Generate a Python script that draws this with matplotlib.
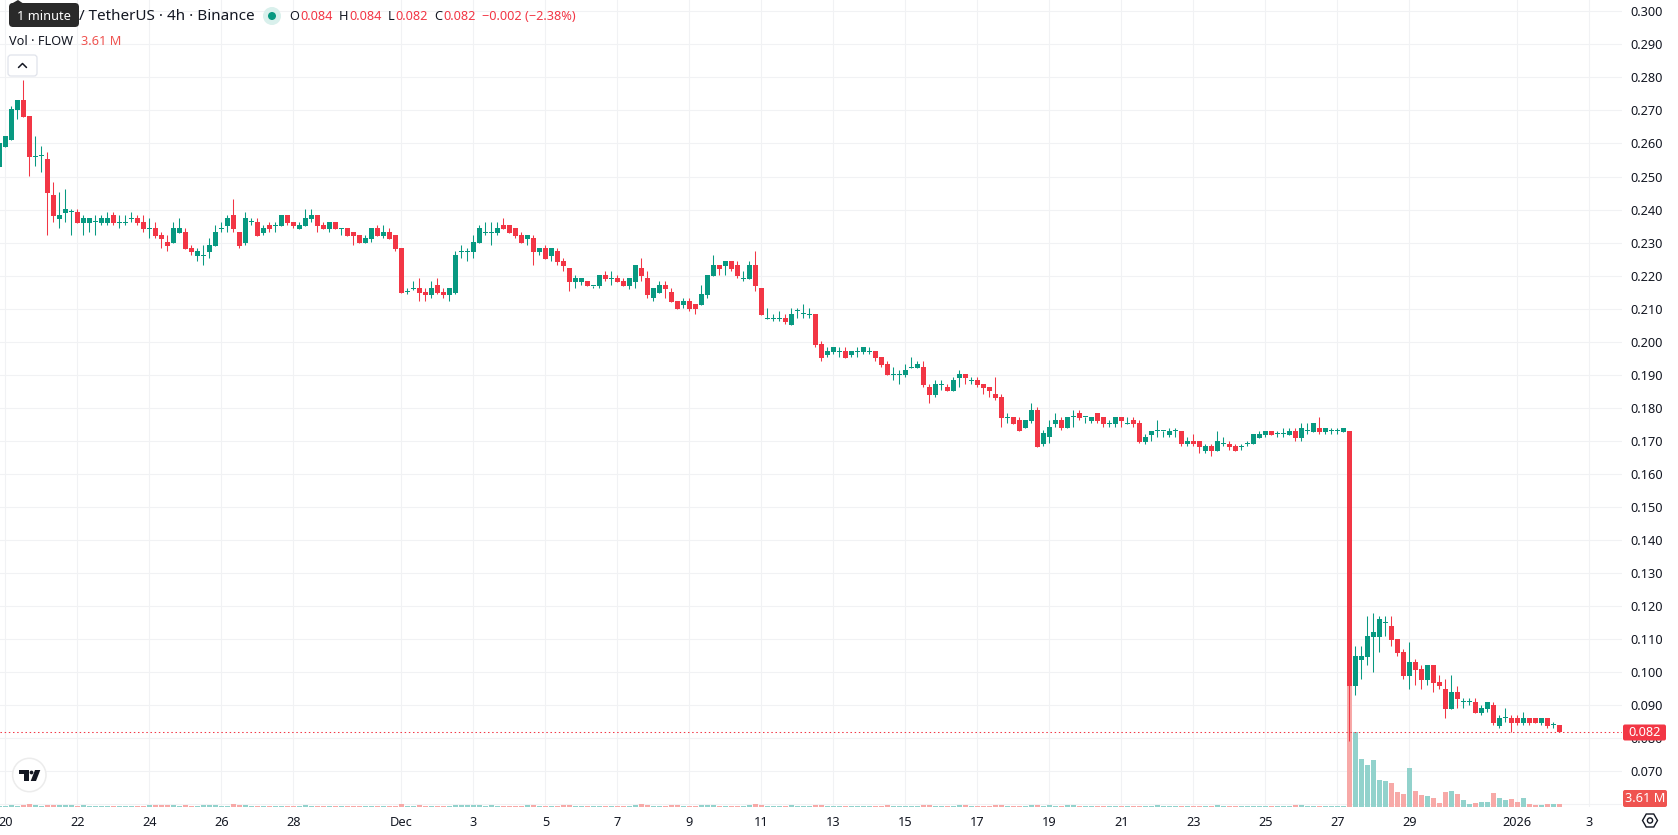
import matplotlib
matplotlib.use("Agg")
import matplotlib.pyplot as plt
import numpy as np
from matplotlib.patches import Circle, FancyBboxPatch, Polygon, RegularPolygon

# FLOW / USDT 4h candles; index 0 is the first bar of Nov 20
first_index = -1
opens = [
    .2529, .2590, .2611, .2701, .2731, .2683, .2560, .2561, .2553, .2443,
    .2371, .2390, .2392, .2392, .2360, .2360, .2361, .2360, .2360, .2383,
    .2360, .2360, .2372, .2374, .2362, .2342, .2343, .2322, .2301, .2299,
    .2329, .2331, .2283, .2259, .2261, .2271, .2289, .2342, .2349, .2383,
    .2331, .2298, .2361, .2362, .2328, .2353, .2351, .2349, .2383, .2362,
    .2340, .2349, .2371, .2383, .2353, .2340, .2362, .2342, .2343, .2331,
    .2322, .2298, .2310, .2343, .2319, .2331, .2322, .2283, .2152, .2160,
    .2162, .2152, .2140, .2171, .2152, .2140, .2149, .2272, .2273, .2271,
    .2298, .2329, .2330, .2328, .2353, .2353, .2343, .2322, .2310, .2313,
    .2271, .2283, .2259, .2274, .2243, .2222, .2180, .2180, .2183, .2168,
    .2168, .2201, .2190, .2192, .2183, .2168, .2180, .2222, .2192, .2131,
    .2149, .2171, .2152, .2122, .2110, .2122, .2113, .2110, .2140, .2198,
    .2231, .2228, .2243, .2231, .2189, .2189, .2231, .2162, .2070, .2069,
    .2070, .2071, .2051, .2092, .2083, .2082, .2084, .1993, .1960, .1969,
    .1970, .1972, .1960, .1970, .1969, .1970, .1972, .1954, .1932, .1900,
    .1900, .1899, .1921, .1920, .1923, .1863, .1838, .1870, .1863, .1851,
    .1890, .1902, .1882, .1884, .1872, .1863, .1841, .1832, .1769, .1772,
    .1763, .1738, .1760, .1793, .1690, .1711, .1751, .1763, .1738, .1771,
    .1784, .1771, .1760, .1784, .1772, .1752, .1751, .1772, .1752, .1763,
    .1753, .1698, .1719, .1730, .1730, .1719, .1730, .1731, .1689, .1701,
    .1701, .1668, .1683, .1668, .1689, .1692, .1683, .1681, .1690, .1689,
    .1710, .1719, .1731, .1720, .1720, .1719, .1731, .1710, .1730, .1728,
    .1740, .1728, .1730, .1730, .1728, .1731, .0959, .1037, .1046, .1107,
    .1107, .1148, .1140, .1101, .1062, .0989, .1031, .1010, .0977, .1022,
    .0971, .0949, .0889, .0940, .0909, .0909, .0910, .0877, .0889, .0901,
    .0837, .0860, .0862, .0862, .0846, .0862, .0862, .0846, .0862, .0840,
    .0840,
]
closes = [
    .2603, .2622, .2704, .2731, .2681, .2560, .2562, .2562, .2451, .2381,
    .2383, .2401, .2392, .2360, .2374, .2374, .2362, .2374, .2374, .2360,
    .2361, .2361, .2373, .2360, .2341, .2343, .2319, .2310, .2289, .2343,
    .2343, .2280, .2271, .2274, .2262, .2292, .2331, .2343, .2374, .2340,
    .2289, .2374, .2362, .2319, .2343, .2340, .2352, .2383, .2359, .2349,
    .2353, .2374, .2383, .2349, .2340, .2362, .2340, .2343, .2319, .2319,
    .2298, .2313, .2343, .2319, .2331, .2310, .2280, .2149, .2153, .2161,
    .2149, .2140, .2162, .2149, .2140, .2162, .2262, .2273, .2274, .2301,
    .2343, .2330, .2331, .2343, .2340, .2328, .2319, .2298, .2322, .2271,
    .2283, .2249, .2283, .2240, .2228, .2180, .2192, .2192, .2168, .2169,
    .2201, .2189, .2191, .2180, .2168, .2192, .2231, .2198, .2140, .2162,
    .2171, .2159, .2119, .2098, .2122, .2098, .2098, .2143, .2201, .2231,
    .2219, .2243, .2219, .2198, .2190, .2231, .2168, .2081, .2071, .2070,
    .2071, .2059, .2084, .2093, .2084, .2083, .1990, .1951, .1972, .1984,
    .1971, .1951, .1972, .1971, .1984, .1971, .1951, .1929, .1899, .1901,
    .1901, .1914, .1922, .1932, .1869, .1838, .1872, .1871, .1851, .1884,
    .1902, .1890, .1883, .1869, .1860, .1851, .1829, .1769, .1770, .1751,
    .1729, .1763, .1793, .1681, .1723, .1741, .1763, .1738, .1772, .1772,
    .1769, .1772, .1772, .1760, .1751, .1753, .1772, .1760, .1753, .1751,
    .1698, .1713, .1731, .1731, .1731, .1731, .1731, .1689, .1701, .1689,
    .1680, .1683, .1668, .1701, .1690, .1680, .1668, .1682, .1691, .1722,
    .1722, .1731, .1719, .1721, .1721, .1731, .1710, .1740, .1731, .1753,
    .1728, .1740, .1731, .1731, .1740, .0959, .1049, .1049, .1110, .1122,
    .1162, .1149, .1098, .1059, .0989, .1031, .1007, .0977, .1022, .0968,
    .0959, .0889, .0940, .0919, .0910, .0910, .0877, .0892, .0910, .0846,
    .0862, .0861, .0846, .0846, .0862, .0846, .0846, .0862, .0837, .0841,
    .0818,
]
highs = [
    .2603, .2622, .2712, .2731, .2792, .2683, .2622, .2592, .2573, .2483,
    .2453, .2462, .2401, .2401, .2383, .2374, .2383, .2383, .2392, .2392,
    .2383, .2383, .2392, .2383, .2383, .2374, .2362, .2331, .2322, .2362,
    .2374, .2343, .2292, .2283, .2292, .2313, .2353, .2362, .2383, .2431,
    .2331, .2392, .2374, .2374, .2353, .2362, .2362, .2383, .2383, .2362,
    .2362, .2401, .2401, .2383, .2362, .2362, .2362, .2343, .2343, .2331,
    .2322, .2322, .2343, .2353, .2353, .2343, .2322, .2283, .2162, .2183,
    .2192, .2162, .2183, .2192, .2162, .2162, .2274, .2292, .2283, .2322,
    .2353, .2362, .2362, .2362, .2374, .2353, .2343, .2331, .2322, .2322,
    .2283, .2292, .2283, .2283, .2253, .2222, .2201, .2192, .2183, .2169,
    .2201, .2213, .2213, .2201, .2192, .2192, .2231, .2253, .2213, .2162,
    .2183, .2183, .2162, .2122, .2131, .2131, .2113, .2171, .2201, .2262,
    .2231, .2243, .2243, .2243, .2213, .2243, .2274, .2162, .2102, .2083,
    .2092, .2083, .2102, .2102, .2114, .2102, .2084, .2002, .1984, .1984,
    .1984, .1984, .1972, .1984, .1984, .1984, .1972, .1954, .1941, .1923,
    .1914, .1932, .1954, .1941, .1941, .1872, .1884, .1884, .1872, .1893,
    .1914, .1902, .1893, .1893, .1872, .1863, .1893, .1841, .1784, .1772,
    .1772, .1763, .1814, .1802, .1732, .1763, .1784, .1772, .1772, .1793,
    .1793, .1772, .1772, .1784, .1772, .1763, .1772, .1772, .1772, .1772,
    .1763, .1722, .1731, .1762, .1731, .1740, .1740, .1731, .1713, .1722,
    .1701, .1692, .1692, .1731, .1713, .1701, .1692, .1692, .1701, .1722,
    .1731, .1731, .1731, .1731, .1740, .1740, .1740, .1753, .1753, .1753,
    .1771, .1740, .1740, .1740, .1740, .1731, .1080, .1080, .1171, .1180,
    .1171, .1171, .1171, .1101, .1071, .1092, .1040, .1022, .1022, .1022,
    .0992, .0980, .0992, .0959, .0922, .0922, .0922, .0901, .0910, .0910,
    .0871, .0892, .0871, .0871, .0880, .0862, .0862, .0862, .0862, .0849,
    .0840,
]
lows = [
    .2529, .2590, .2611, .2674, .2681, .2502, .2532, .2514, .2323, .2363,
    .2344, .2363, .2323, .2360, .2323, .2332, .2323, .2353, .2353, .2353,
    .2343, .2353, .2362, .2353, .2332, .2313, .2313, .2283, .2274, .2299,
    .2329, .2280, .2262, .2243, .2231, .2253, .2289, .2331, .2331, .2331,
    .2283, .2292, .2353, .2319, .2322, .2331, .2331, .2349, .2353, .2343,
    .2340, .2349, .2362, .2331, .2340, .2331, .2340, .2322, .2319, .2292,
    .2298, .2298, .2301, .2319, .2313, .2310, .2274, .2149, .2143, .2156,
    .2122, .2122, .2131, .2143, .2131, .2122, .2143, .2253, .2243, .2253,
    .2298, .2322, .2292, .2322, .2340, .2328, .2313, .2298, .2292, .2231,
    .2262, .2249, .2243, .2231, .2213, .2153, .2162, .2171, .2168, .2162,
    .2162, .2183, .2171, .2180, .2168, .2159, .2162, .2183, .2131, .2122,
    .2149, .2131, .2119, .2098, .2101, .2092, .2083, .2110, .2131, .2198,
    .2201, .2201, .2213, .2192, .2183, .2189, .2153, .2081, .2070, .2062,
    .2062, .2053, .2051, .2072, .2072, .2072, .1984, .1941, .1954, .1963,
    .1954, .1951, .1954, .1954, .1963, .1963, .1941, .1923, .1899, .1884,
    .1872, .1893, .1921, .1920, .1863, .1814, .1832, .1854, .1851, .1851,
    .1863, .1872, .1872, .1863, .1841, .1832, .1823, .1741, .1754, .1751,
    .1729, .1738, .1754, .1681, .1684, .1693, .1741, .1732, .1738, .1741,
    .1763, .1754, .1754, .1754, .1741, .1741, .1741, .1741, .1752, .1741,
    .1693, .1692, .1701, .1713, .1713, .1713, .1713, .1683, .1683, .1683,
    .1662, .1662, .1653, .1668, .1683, .1671, .1668, .1671, .1683, .1689,
    .1710, .1713, .1719, .1713, .1713, .1719, .1701, .1701, .1722, .1728,
    .1722, .1722, .1722, .1722, .1728, .0792, .0931, .0980, .1022, .1001,
    .1062, .1110, .1080, .1049, .0980, .0949, .0962, .0949, .0962, .0940,
    .0949, .0862, .0889, .0892, .0892, .0901, .0877, .0871, .0880, .0840,
    .0831, .0849, .0819, .0840, .0840, .0840, .0846, .0840, .0831, .0831,
    .0818,
]
# traded volume per bar, in millions of FLOW
volumes = [
    1.3, 1.3, 2.7, 1.3, 2.7, 4.0, 2.7, 1.3, 2.7, 2.7,
    2.7, 2.7, 2.7, 1.3, 2.7, 1.3, 1.3, 1.3, 1.3, 1.3,
    1.3, 1.3, 1.3, 1.3, 1.3, 2.7, 2.7, 2.7, 2.7, 2.7,
    1.3, 2.7, 1.3, 1.3, 2.7, 2.7, 2.7, 1.3, 1.3, 4.0,
    2.7, 2.7, 1.3, 1.3, 1.3, 1.3, 1.3, 1.3, 1.3, 1.3,
    1.3, 2.7, 1.3, 1.3, 1.3, 1.3, 1.3, 1.3, 1.3, 1.3,
    1.3, 1.3, 1.3, 1.3, 1.3, 1.3, 1.3, 4.0, 1.3, 1.3,
    2.7, 1.3, 1.3, 1.3, 1.3, 1.3, 2.7, 2.7, 2.7, 2.7,
    2.7, 1.3, 2.7, 1.3, 1.3, 1.3, 1.3, 1.3, 2.7, 2.7,
    1.3, 1.3, 1.3, 1.3, 2.7, 2.7, 1.3, 1.3, 1.3, 1.3,
    1.3, 1.3, 1.3, 1.3, 1.3, 1.3, 2.7, 4.0, 2.7, 1.3,
    1.3, 1.3, 2.7, 2.7, 1.3, 1.3, 1.3, 2.7, 2.7, 2.7,
    1.3, 1.3, 1.3, 1.3, 1.3, 2.7, 4.0, 2.7, 1.3, 1.3,
    1.3, 1.3, 2.7, 1.3, 1.3, 1.3, 2.7, 2.7, 1.3, 1.3,
    1.3, 1.3, 1.3, 1.3, 1.3, 1.3, 1.3, 1.3, 2.7, 1.3,
    1.3, 1.3, 1.3, 1.3, 2.7, 2.7, 1.3, 1.3, 1.3, 1.3,
    2.7, 2.7, 1.3, 1.3, 1.3, 1.3, 2.7, 2.7, 1.3, 1.3,
    1.3, 1.3, 2.7, 2.7, 1.3, 2.7, 1.3, 1.3, 2.7, 2.7,
    1.3, 1.3, 1.3, 1.3, 1.3, 1.3, 1.3, 1.3, 1.3, 1.3,
    1.3, 1.3, 1.3, 2.7, 1.3, 1.3, 1.3, 1.3, 1.3, 1.3,
    1.3, 1.3, 1.3, 2.7, 1.3, 1.3, 1.3, 1.3, 1.3, 1.3,
    1.3, 1.3, 1.3, 1.3, 1.3, 1.3, 2.7, 2.7, 1.3, 1.3,
    1.3, 1.3, 1.3, 1.3, 1.3, 250, 100, 64, 56, 63,
    36, 35, 32, 20, 17, 52, 21, 16, 15, 12,
    5.3, 20, 21, 17, 9.3, 4.0, 5.3, 6.7, 6.7, 19,
    12, 9.3, 10.7, 6.7, 12, 4.0, 2.7, 2.7, 4.0, 4.0,
    3.61,
]
date_ticks = [0, 12, 24, 36, 48, 66, 78, 90, 102, 114, 126, 138, 150, 162, 174,
              186, 198, 210, 222, 234, 252, 264]
date_labels = ["20", "22", "24", "26", "28", "Dec", "3", "5", "7", "9", "11", "13", "15",
               "17", "19", "21", "23", "25", "27", "29", "2026", "3"]
price_ticks = [.06, .07, .08, .09, .10, .11, .12, .13, .14, .15, .16, .17, .18, .19, .20,
               .21, .22, .23, .24, .25, .26, .27, .28, .29, .30]
last_close = closes[-1]

UP, DOWN = "#089981", "#f23645"
UP_VOL, DOWN_VOL = "#92d2cc", "#f7a9a7"
INK = "#131722"
GRID = "#f1f2f4"

W, H = 1678, 835
PANE_W, PANE_H = 1622, 807
FONT = "Noto Sans"
plt.rcParams["font.family"] = [FONT, "DejaVu Sans"]

fig = plt.figure(figsize=(W / 100, H / 100), dpi=100, facecolor="white")
rect = [0, (H - PANE_H) / H, PANE_W / W, PANE_H / H]

# Three stacked layers: grid at the back, then volume, then candles and scales
ax = fig.add_axes(rect)
grid_ax = fig.add_axes(rect, sharex=ax, sharey=ax)
vol_ax = ax.twinx()
grid_ax.set_zorder(0)
vol_ax.set_zorder(1)
ax.set_zorder(2)
ax.patch.set_visible(False)
vol_ax.patch.set_visible(False)
grid_ax.patch.set_facecolor("white")

x = np.arange(first_index, first_index + len(closes))
o, c, h, l = map(np.array, (opens, closes, highs, lows))
rising = c >= o
colors = np.where(rising, UP, DOWN)

# 33.04 px per 0.01 of price, 6 px per bar
ax.set_xlim(-5.4 / 6, (PANE_W - 5.4) / 6)
ax.set_ylim(.06 - 2.7 / 3304, .06 + 804.3 / 3304)
vol_ax.set_ylim(0, PANE_H * 1.333)
vol_ax.set_yticks([])

vol_ax.bar(x, volumes, width=5 / 6, color=np.where(rising, UP_VOL, DOWN_VOL), linewidth=0)

ax.vlines(x, l, h, colors=colors, linewidth=0.75, zorder=3)
body_low = np.minimum(o, c)
body_height = np.maximum(np.abs(c - o), 1.0 / 3304)
ax.bar(x, body_height, bottom=body_low, width=5 / 6, color=colors, linewidth=0, zorder=4)

ax.axhline(last_close, color=DOWN, linewidth=0.75, linestyle=(0, (1.4, 2.6)), zorder=5)

ax.set_xticks(date_ticks, date_labels)
ax.set_yticks(price_ticks, ["" if t == .06 else f"{t:.3f}" for t in price_ticks])
ax.yaxis.tick_right()
ax.tick_params(axis="both", length=0, labelsize=9.2, labelcolor=INK)
ax.tick_params(axis="y", pad=5.8)
ax.tick_params(axis="x", pad=6.7)
for label, text in zip(ax.get_xticklabels(), date_labels):
    if text == "2026":
        label.set_fontweight("bold")

grid_ax.grid(True, color=GRID, linewidth=0.75)
grid_ax.tick_params(axis="both", length=0, labelleft=False, labelbottom=False,
                    labelright=False, labeltop=False)
for a in (ax, grid_ax, vol_ax):
    for spine in a.spines.values():
        spine.set_visible(False)

# Interface furniture, laid out in pixel coordinates
ui = fig.add_axes([0, 0, 1, 1], zorder=5)
ui.set_xlim(0, W)
ui.set_ylim(H, 0)
ui.axis("off")

# tooltip over the symbol name
ui.add_patch(FancyBboxPatch((11, 5), 66, 20, boxstyle="round,pad=2,rounding_size=4",
                            fc="#2a2a2a", ec="none"))
ui.add_patch(Polygon([[11, 4], [18, 0], [24, 4]], fc="#2a2a2a", ec="none"))
ui.text(44, 16.5, "1 minute", color="white", fontsize=9.2, ha="center", va="center")

# legend rows
ui.text(79, 17, "/ TetherUS · 4h · Binance", color=INK, fontsize=11, ha="left", va="center")
ui.add_patch(Circle((272, 16), 9, fc="#d9f0ec", ec="none"))
ui.add_patch(Circle((272, 16), 4, fc=UP, ec="none"))
for px, txt, col in [(289, "O", INK), (300, "0.084", DOWN), (338.5, "H", INK), (349, "0.084", DOWN),
                     (387.5, "L", INK), (395, "0.082", DOWN), (434, "C", INK), (443, "0.082", DOWN),
                     (482, "−0.002 (−2.38%)", DOWN)]:
    ui.text(px, 17, txt, color=col, fontsize=9.2, ha="left", va="center")
ui.text(9, 41.5, "Vol · FLOW", color=INK, fontsize=9.2, ha="left", va="center")
ui.text(81, 41.5, "3.61 M", color="#ef5350", fontsize=9.2, ha="left", va="center")

# collapse button
ui.add_patch(FancyBboxPatch((10, 57), 25, 17, boxstyle="round,pad=2,rounding_size=3",
                            fc="white", ec="#e0e3eb", lw=0.9))
ui.plot([18.5, 22.5, 26.5], [67.5, 63.5, 67.5], color=INK, lw=1.1, solid_capstyle="round")

# logo badge
ui.add_patch(Circle((29.3, 775), 16.7, fc="white", ec="#ececec", lw=1.1))
ui.add_patch(Polygon([[19, 770], [29.3, 770], [29.3, 781], [24, 781], [24, 774], [19, 774]],
                     fc="#131722", ec="none"))
ui.add_patch(Circle((31.5, 772.5), 1.9, fc="#131722", ec="none"))
ui.add_patch(Polygon([[35, 770], [40.3, 770], [36, 781], [30.7, 781]], fc="#131722", ec="none"))

# value tags on the price scale
ui.add_patch(FancyBboxPatch((1624, 725.5), 41, 14, boxstyle="round,pad=1,rounding_size=2",
                            fc=DOWN, ec="none"))
ui.text(1645, 732.7, f"{last_close:.3f}", color="white", fontsize=9.2, ha="center", va="center")
ui.add_patch(FancyBboxPatch((1624, 791), 42, 15, boxstyle="round,pad=1,rounding_size=2",
                            fc="#ef5350", ec="none"))
ui.text(1645, 798.5, f"{volumes[-1]:.2f} M", color="white", fontsize=9.2, ha="center", va="center")

# settings icon
ui.add_patch(RegularPolygon((1650, 820.5), 6, radius=7.5, orientation=np.pi / 6,
                            fc="none", ec=INK, lw=1.0))
ui.add_patch(Circle((1650, 820.5), 2.6, fc="none", ec=INK, lw=1.0))

fig.savefig("out.png", dpi=100, facecolor="white")
